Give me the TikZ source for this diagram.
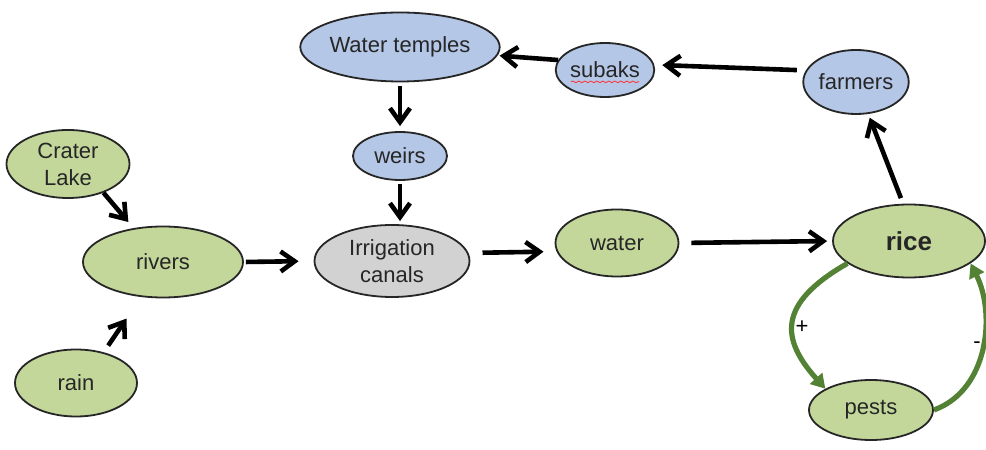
\documentclass[tikz,border=0pt]{standalone}
\usepackage{fontspec}
\setmainfont{Liberation Sans}
\usepackage{tikz}
\usetikzlibrary{arrows.meta}
\usetikzlibrary{shapes.geometric}
\usetikzlibrary{decorations.pathmorphing}

\definecolor{leaf}{RGB}{196,215,155}
\definecolor{sky}{RGB}{180,199,231}
\definecolor{stone}{RGB}{210,210,210}
\definecolor{moss}{RGB}{84,130,53}

\tikzset{
  blob/.style={ellipse, draw=black!85, line width=0.9pt, inner sep=0pt,
    text=black!85, align=center, font=\fontsize{11}{13.5}\selectfont},
  greenblob/.style={blob, fill=leaf},
  blueblob/.style={blob, fill=sky},
  greyblob/.style={blob, fill=stone},
  flow/.style={line width=2.3pt, -{Straight Barb[length=7pt,width=10pt]}},
  feedback/.style={moss, line width=2.6pt, -{Triangle[length=7pt,width=8pt]}}
}

\begin{document}
\begin{tikzpicture}[x=0.5pt,y=0.5pt]
  \useasboundingbox (0,0) rectangle (986,450);

  % management side
  \node[blueblob, minimum width=82pt, minimum height=34.5pt] (temples) at (400,403) {Water temples};
  \node[blueblob, minimum width=45pt, minimum height=27pt] (subaks) at (605,380) {subaks};
  \node[blueblob, minimum width=46.5pt, minimum height=32pt] (farmers) at (856,368) {farmers};
  \node[blueblob, minimum width=47pt, minimum height=24pt] (weirs) at (400,294) {weirs};
  \draw[red!80, line width=0.4pt, decorate, decoration={snake, amplitude=0.4pt, segment length=3pt}]
    ([xshift=-17pt, yshift=-2pt]subaks.base) -- ([xshift=17pt, yshift=-2pt]subaks.base);

  % water side
  \node[greenblob, minimum width=61.5pt, minimum height=34pt] (crater) at (68,286) {Crater\\Lake};
  \node[greenblob, minimum width=80pt, minimum height=35.5pt] (rivers) at (163,188) {rivers};
  \node[greenblob, minimum width=61pt, minimum height=33.5pt] (rain) at (76,67) {rain};
  \node[greyblob, minimum width=77.5pt, minimum height=36pt] (canals) at (392,189) {Irrigation\\canals};
  \node[greenblob, minimum width=61.5pt, minimum height=33.5pt] (water) at (617,207) {water};
  \node[greenblob, minimum width=76pt, minimum height=36.5pt, font=\fontsize{13}{15}\selectfont\bfseries] (rice) at (909,209) {rice};
  \node[greenblob, minimum width=62pt, minimum height=30pt] (pests) at (871,40) {pests};

  \draw[flow, shorten >=1pt] (subaks.168) -- (temples.-5);
  \draw[flow, shorten <=4.5pt, shorten >=4pt] (farmers.167) -- (subaks.6);
  \draw[flow, shorten <=3pt, shorten >=2pt] (rice.99) -- (farmers.291);
  \draw[flow, shorten <=2pt, shorten >=2.5pt] (temples.south) -- (weirs.north);
  \draw[flow, shorten <=1.5pt, shorten >=1.5pt] (weirs.south) -- (canals.north -| weirs.south);
  \draw[flow, shorten >=4pt] (crater.321) -- (rivers.131);
  \draw[flow, shorten <=4pt, shorten >=13pt] (rain.48) -- (rivers.238);
  \draw[flow, shorten <=1pt, shorten >=7.5pt] (rivers.east) -- (canals.west);
  \draw[flow, shorten <=7pt, shorten >=6.5pt] (canals.6) -- (water.188);
  \draw[flow, shorten <=6pt, shorten >=2.5pt] (water.east) -- (rice.west);

  % rice and pests
  \draw[feedback] (rice.200) .. controls +(-70,-40) and +(-45,50) .. (pests.155);
  \draw[feedback] (pests.east) .. controls +(55,20) and +(25,-50) .. (rice.340);
  \node[font=\fontsize{11}{13}\selectfont] (plus) at (802,123) {+};
  \node[font=\fontsize{11}{13}\selectfont] (minus) at (977,105) {-};
\end{tikzpicture}
\end{document}
